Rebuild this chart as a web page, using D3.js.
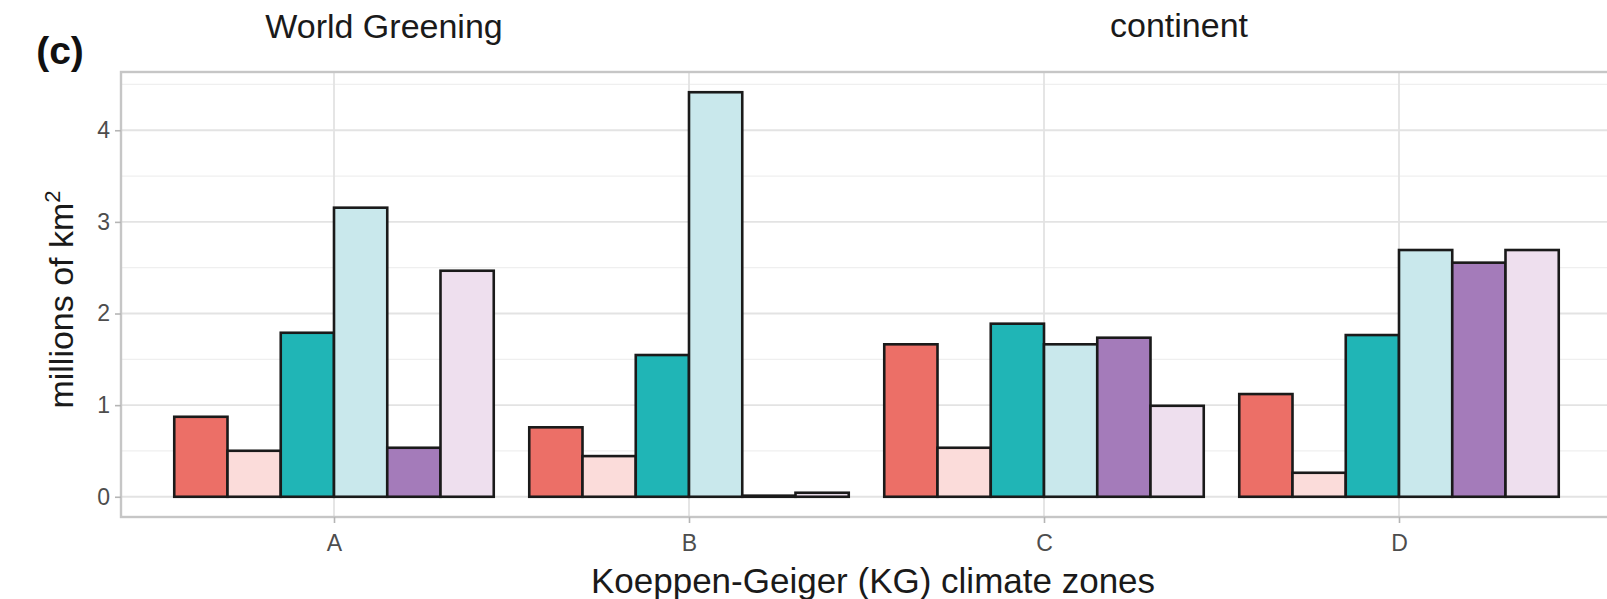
<!DOCTYPE html>
<html>
<head>
<meta charset="utf-8">
<script src="https://cdn.jsdelivr.net/npm/d3@7"></script>
<style>
  html, body { margin: 0; padding: 0; background: #ffffff; }
  svg { display: block; font-family: "Liberation Sans", Arial, Helvetica, sans-serif; }
</style>
</head>
<body>
<svg id="chart" width="1607" height="599"></svg>
<script>
// Climate zones on the x axis
const zones = ["A", "B", "C", "D"];

// Six bar series per zone (area, millions of km²)
const seriesKeys = ["s1", "s2", "s3", "s4", "s5", "s6"];
const seriesColors = ["#EC6F67", "#FBDCDA", "#20B5B6", "#C9E8EC", "#A47BBA", "#EEDFEE"];

const valuesS1 = [0.873, 0.758, 1.664, 1.121];
const valuesS2 = [0.502, 0.444, 0.535, 0.262];
const valuesS3 = [1.790, 1.547, 1.889, 1.765];
const valuesS4 = [3.155, 4.415, 1.664, 2.693];
const valuesS5 = [0.535, 0.012, 1.736, 2.555];
const valuesS6 = [2.467, 0.044, 0.993, 2.693];

const yTicks = [0, 1, 2, 3, 4];
const yMinorTicks = [0.5, 1.5, 2.5, 3.5, 4.5];

const panelLabel = "(c)";
const headingLeft = "World Greening";
const headingRight = "continent";
const xTitle = "Koeppen-Geiger (KG) climate zones";

// Long-format rows built from the arrays above
const seriesValues = [valuesS1, valuesS2, valuesS3, valuesS4, valuesS5, valuesS6];
const rows = [];
zones.forEach((z, i) => {
  seriesKeys.forEach((k, j) => {
    rows.push({ zone: z, key: k, value: seriesValues[j][i], color: seriesColors[j] });
  });
});

const svg = d3.select("#chart");

// Panel geometry
const panel = { left: 121, right: 1612, top: 72, bottom: 517 };

const x = d3.scalePoint()
  .domain(zones)
  .range([panel.left, panel.right])
  .padding(0.6);

const step = x.step();
const dodge = d3.scaleBand()
  .domain(seriesKeys)
  .range([-0.45 * step, 0.45 * step])
  .paddingInner(0)
  .paddingOuter(0);

const maxVal = d3.max(rows, d => d.value);
const y = d3.scaleLinear()
  .domain([-0.05 * maxVal, 1.05 * maxVal])
  .range([panel.bottom, panel.top]);

svg.append("defs").append("clipPath").attr("id", "panel-clip")
  .append("rect")
  .attr("x", panel.left).attr("y", panel.top)
  .attr("width", panel.right - panel.left).attr("height", panel.bottom - panel.top);

const plot = svg.append("g").attr("clip-path", "url(#panel-clip)");

// Grid: minor then major horizontals, majors at each zone
plot.selectAll("line.minor")
  .data(yMinorTicks)
  .join("line")
  .attr("x1", panel.left).attr("x2", panel.right)
  .attr("y1", d => y(d)).attr("y2", d => y(d))
  .attr("stroke", "#EFEFEF").attr("stroke-width", 1.2);

plot.selectAll("line.major")
  .data(yTicks)
  .join("line")
  .attr("x1", panel.left).attr("x2", panel.right)
  .attr("y1", d => y(d)).attr("y2", d => y(d))
  .attr("stroke", "#E3E3E3").attr("stroke-width", 1.8);

plot.selectAll("line.vmajor")
  .data(zones)
  .join("line")
  .attr("x1", d => x(d)).attr("x2", d => x(d))
  .attr("y1", panel.top).attr("y2", panel.bottom)
  .attr("stroke", "#E3E3E3").attr("stroke-width", 1.8);

// Bars
plot.selectAll("rect.bar")
  .data(rows)
  .join("rect")
  .attr("class", "bar")
  .attr("x", d => x(d.zone) + dodge(d.key))
  .attr("width", dodge.bandwidth())
  .attr("y", d => y(d.value))
  .attr("height", d => y(0) - y(d.value))
  .attr("fill", d => d.color)
  .attr("stroke", "#1a1a1a")
  .attr("stroke-width", 2.6);

// Panel border
svg.append("rect")
  .attr("x", panel.left).attr("y", panel.top)
  .attr("width", panel.right - panel.left).attr("height", panel.bottom - panel.top)
  .attr("fill", "none")
  .attr("stroke", "#C6C6C6")
  .attr("stroke-width", 2.4);

// Y axis
const yAxis = d3.axisLeft(y).tickValues(yTicks).tickSize(6).tickPadding(5).tickFormat(d3.format("d"));
const gy = svg.append("g").attr("transform", `translate(${panel.left},0)`).call(yAxis);
gy.select(".domain").remove();
gy.selectAll(".tick line").attr("stroke", "#B5B5B5").attr("stroke-width", 1.6);
gy.selectAll(".tick text")
  .attr("fill", "#4D4D4D")
  .style("font-size", "23px")
  .style("font-family", "'Liberation Sans', Arial, sans-serif");

// X axis
const xAxis = d3.axisBottom(x).tickSize(6).tickPadding(12);
const gx = svg.append("g").attr("transform", `translate(0,${panel.bottom})`).call(xAxis);
gx.select(".domain").remove();
gx.selectAll(".tick line").attr("stroke", "#B5B5B5").attr("stroke-width", 1.6);
gx.selectAll(".tick text")
  .attr("fill", "#4D4D4D")
  .style("font-size", "23px")
  .style("font-family", "'Liberation Sans', Arial, sans-serif");

// Axis titles
svg.append("text")
  .attr("x", 873).attr("y", 593)
  .attr("text-anchor", "middle")
  .attr("fill", "#1a1a1a")
  .style("font-size", "35px")
  .text(xTitle);

const yt = svg.append("text")
  .attr("transform", `translate(73,${(panel.top + panel.bottom) / 2 + 5}) rotate(-90)`)
  .attr("text-anchor", "middle")
  .attr("fill", "#1a1a1a")
  .style("font-size", "34px");
yt.append("tspan").text("millions of km");
yt.append("tspan").attr("dy", -13).style("font-size", "22px").text("2");

// Panel tag and headings
svg.append("text")
  .attr("x", 60).attr("y", 64)
  .attr("text-anchor", "middle")
  .attr("fill", "#111")
  .style("font-size", "39px")
  .style("font-weight", "bold")
  .text(panelLabel);

svg.append("text")
  .attr("x", 384).attr("y", 38)
  .attr("text-anchor", "middle")
  .attr("fill", "#1a1a1a")
  .style("font-size", "34px")
  .text(headingLeft);

svg.append("text")
  .attr("x", 1179).attr("y", 37)
  .attr("text-anchor", "middle")
  .attr("fill", "#1a1a1a")
  .style("font-size", "34px")
  .text(headingRight);
</script>
</body>
</html>
